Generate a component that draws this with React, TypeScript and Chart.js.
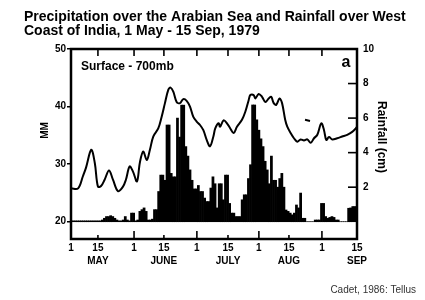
import React, { useEffect, useRef } from 'react';
import { Chart, registerables } from 'chart.js';

Chart.register(...registerables);

const FONT = '"Liberation Sans", Arial, Helvetica, sans-serif';

const titleLines = [
  'Precipitation over the Arabian Sea and Rainfall over West',
  'Coast of India, 1 May - 15 Sep, 1979',
];
const sourceNote = 'Cadet, 1986: Tellus';
const panelLabel = 'Surface - 700mb';
const panelLetter = 'a';
const leftAxisTitle = 'MM';
const rightAxisTitle = 'Rainfall (cm)';

// x axis: days counted from 1 May (tick positions as drawn on the original)
const dayTickPositions = [0, 12.9, 30.2, 44.5, 60.3, 75.2, 90.0, 104.4, 120.2, 137];
const dayTickLabels = ['1', '15', '1', '15', '1', '15', '1', '15', '1', '15'];
const monthLabels = ['', 'MAY', '', 'JUNE', '', 'JULY', '', 'AUG', '', 'SEP'];
const mmTicks = [20, 30, 40, 50];
const cmTicks = [2, 4, 6, 8, 10];

// precipitable water, surface - 700mb (mm)
const pwDays = [
  0, 3.4, 5.7, 7.2, 9.7, 11.4, 12.9, 14.4, 16.1, 18.2, 20.1, 22.5, 24.9, 26.3, 28.1, 29.7,
  31.6, 33.0, 34.6, 36.3, 37.8, 39.4, 41.8, 43.4, 45.0, 46.6, 47.7, 49.0, 50.6, 52.2, 53.8,
  55.4, 57.0, 58.6, 60.2, 61.8, 63.4, 65.0, 66.6, 68.2, 69.1, 70.7, 71.4, 73.1, 74.7, 76.3,
  77.9, 79.5, 81.9, 83.5, 85.1, 85.9, 87.5, 88.3, 89.9, 91.5, 93.1, 94.7, 95.9, 97.1, 98.3,
  99.9, 101.1, 102.6, 103.6, 105.2, 106.8, 108.4, 110.0, 111.6, 113.2, 114.8, 116.4, 118.0,
  119.9, 121.2, 122.3, 123.6, 125.1, 127.5, 129.9, 132.3, 134.7, 136.4, 137,
];
const pwValues = [
  25.8, 25.8, 27.9, 29.4, 32.5, 30.2, 26.1, 26.2, 27.3, 28.9, 27.3, 25.3, 26.1, 27.3, 29.6, 28.7,
  27.0, 30.3, 32.2, 30.7, 32.5, 34.8, 36.2, 38.2, 40.6, 42.9, 43.3, 42.6, 40.8, 40.6, 41.3,
  41.0, 40.0, 38.2, 37.4, 36.8, 35.9, 34.2, 33.1, 34.8, 36.2, 37.1, 36.5, 37.6, 37.1, 36.2,
  35.4, 36.5, 37.7, 39.1, 41.1, 42.0, 42.0, 41.4, 42.2, 41.7, 40.8, 41.4, 41.7, 40.6, 40.3,
  41.4, 40.6, 37.7, 36.5, 35.4, 34.5, 33.9, 34.3, 34.1, 34.3, 33.7, 34.5, 35.1,
  37.1, 35.9, 34.2, 34.7, 34.3, 34.5, 34.8, 35.1, 35.6, 36.2, 36.5,
];
const pwFragmentDays = [112.1, 114.5];
const pwFragmentValues = [37.7, 37.5];

// daily rainfall over the west coast (cm), day 0 = 1 May
const rainfallCm = [
  0.05, 0.05, 0.05, 0.05, 0.05, 0.05, 0.05, 0.05, 0.05, 0.05,
  0.05, 0.05, 0.05, 0.05, 0.05, 0.1, 0.2, 0.3, 0.3, 0.35,
  0.3, 0.2, 0.1, 0.05, 0.05, 0.1, 0.3, 0.1, 0.05, 0.5,
  0.5, 0.05, 0.1, 0.6, 0.7, 0.8, 0.6, 0.1, 0.1, 0.15,
  0.7, 0.7, 1.75, 2.7, 2.7, 2.4, 5.6, 5.6, 2.8, 2.6,
  2.6, 6.0, 4.9, 6.75, 6.75, 4.35, 3.8, 3.0, 2.4, 1.9,
  1.9, 2.1, 1.75, 1.75, 1.37, 1.17, 1.17, 1.95, 2.6, 2.2,
  0.8, 2.2, 2.2, 1.27, 2.7, 2.7, 1.06, 0.5, 0.5, 0.3,
  0.3, 0.3, 1.27, 1.56, 1.56, 2.5, 3.3, 6.76, 6.76, 5.9,
  5.3, 4.8, 4.35, 3.5, 3.0, 2.2, 3.8, 2.4, 2.4, 2.0,
  2.5, 2.8, 2.0, 0.68, 0.6, 0.5, 0.4, 0.5, 0.97, 0.8,
  1.66, 0.2, 0.2, 0, 0, 0, 0, 0.1, 0.1, 0.1,
  1.06, 1.06, 0.3, 0.2, 0.25, 0.3, 0.25, 0.1, 0.1, 0,
  0, 0, 0, 0.78, 0.8, 0.88, 0.88, 0.88,
];

const framePlugin = {
  id: 'frameAndNotes',
  afterDatasetsDraw(chart: any) {
    const { ctx, chartArea: a, scales } = chart;
    const seg = (x1: number, y1: number, x2: number, y2: number) => {
      ctx.beginPath();
      ctx.moveTo(x1, y1);
      ctx.lineTo(x2, y2);
      ctx.stroke();
    };
    ctx.save();
    ctx.strokeStyle = '#000';
    ctx.lineWidth = 1.6;
    dayTickPositions.forEach((v, i) => {
      if (i === 0 || i === dayTickPositions.length - 1) return;
      const px = scales.x.getPixelForValue(v);
      const len = dayTickLabels[i] === '1' ? 8 : 4;
      seg(px, a.bottom, px, a.bottom - len);
      seg(px, a.top, px, a.top + 7);
    });
    cmTicks.forEach((v) => {
      const py = scales.y2.getPixelForValue(v);
      seg(a.right, py, a.right - 9, py);
    });
    ctx.lineWidth = 2.5;
    ctx.strokeRect(a.left, a.top, a.right - a.left, a.bottom - a.top);

    ctx.fillStyle = '#000';
    ctx.textBaseline = 'middle';
    ctx.textAlign = 'left';
    ctx.font = `bold 12px ${FONT}`;
    ctx.fillText(panelLabel, a.left + 10, a.top + 18);
    ctx.textBaseline = 'alphabetic';
    ctx.font = `bold 16px ${FONT}`;
    ctx.fillText(panelLetter, a.right - 15.5, a.top + 17.7);

    ctx.textAlign = 'center';
    ctx.textBaseline = 'middle';
    ctx.font = `bold 10px ${FONT}`;
    ctx.save();
    ctx.translate(a.left - 26, a.top + 81.5);
    ctx.rotate(-Math.PI / 2);
    ctx.fillText(leftAxisTitle, 0, 0);
    ctx.restore();
    ctx.font = `bold 12px ${FONT}`;
    ctx.save();
    ctx.translate(a.right + 24, a.top + 88);
    ctx.rotate(Math.PI / 2);
    ctx.fillText(rightAxisTitle, 0, 0);
    ctx.restore();
    ctx.restore();
  },
};

export default function App() {
  const ref = useRef<HTMLCanvasElement>(null);
  useEffect(() => {
    if (!ref.current) return;
    const chart = new Chart(ref.current, {
      type: 'line',
      data: {
        datasets: [
          {
            type: 'line',
            label: 'Precipitable water (mm)',
            data: pwDays.map((d, i) => ({ x: d, y: pwValues[i] })),
            yAxisID: 'y',
            borderColor: '#000',
            borderWidth: 2,
            pointRadius: 0,
            tension: 0.35,
            fill: false,
            order: 1,
          },
          {
            type: 'line',
            label: 'fragment',
            data: pwFragmentDays.map((d, i) => ({ x: d, y: pwFragmentValues[i] })),
            yAxisID: 'y',
            borderColor: '#000',
            borderWidth: 2,
            pointRadius: 0,
            fill: false,
            order: 1,
          },
          {
            type: 'bar',
            label: 'Rainfall (cm)',
            data: rainfallCm.map((v, i) => ({ x: i, y: v })),
            yAxisID: 'y2',
            backgroundColor: '#000',
            borderWidth: 0,
            barPercentage: 1,
            categoryPercentage: 1,
            order: 2,
          } as any,
        ],
      },
      options: {
        responsive: false,
        devicePixelRatio: 1,
        animation: false,
        layout: { padding: { left: 24, right: 9, top: 0, bottom: 0 } },
        plugins: {
          legend: { display: false },
          tooltip: { enabled: false },
          title: {
            display: true,
            text: titleLines,
            align: 'start',
            color: '#000',
            font: { family: FONT, size: 14, weight: 'bold', lineHeight: 1 },
            padding: { top: 10, bottom: 11 },
          },
          subtitle: {
            display: true,
            text: sourceNote,
            position: 'bottom',
            align: 'end',
            color: '#333',
            font: { family: FONT, size: 10, weight: 'normal', lineHeight: 1.2 },
            padding: { top: 0, bottom: 4 },
          },
        },
        scales: {
          x: {
            type: 'linear',
            min: 0,
            max: 137,
            offset: false,
            grid: { display: false, drawTicks: false },
            border: { display: false },
            afterBuildTicks: (scale: any) => {
              scale.ticks = dayTickPositions.map((v) => ({ value: v }));
            },
            afterFit: (scale: any) => {
              scale.height = 45;
            },
            ticks: {
              autoSkip: false,
              maxRotation: 0,
              padding: 3,
              color: '#000',
              font: { family: FONT, size: 10, weight: 'bold', lineHeight: 1.25 },
              callback: (_v: any, i: number) =>
                monthLabels[i] ? [dayTickLabels[i], monthLabels[i]] : dayTickLabels[i],
            },
          },
          y: {
            type: 'linear',
            position: 'left',
            min: 17,
            max: 50,
            grid: {
              drawOnChartArea: false,
              drawTicks: true,
              tickLength: 4,
              color: '#000',
              lineWidth: 1.5,
            },
            border: { display: false },
            afterBuildTicks: (scale: any) => {
              scale.ticks = mmTicks.map((v) => ({ value: v }));
            },
            afterFit: (scale: any) => {
              scale.width = 47;
            },
            ticks: {
              padding: 1,
              color: '#000',
              font: { family: FONT, size: 10, weight: 'bold' },
            },
          },
          y2: {
            type: 'linear',
            position: 'right',
            min: -1,
            max: 10,
            grid: { display: false, drawTicks: false },
            border: { display: false },
            afterBuildTicks: (scale: any) => {
              scale.ticks = cmTicks.map((v) => ({ value: v }));
            },
            afterFit: (scale: any) => {
              scale.width = 59;
            },
            ticks: {
              padding: 6,
              color: '#000',
              font: { family: FONT, size: 10, weight: 'bold' },
            },
          },
        },
      } as any,
      plugins: [framePlugin],
    });
    return () => chart.destroy();
  }, []);

  return (
    <div style={{ position: 'fixed', left: 0, top: 0, width: 425, height: 300, background: '#fff' }}>
      <canvas ref={ref} width={425} height={300} style={{ display: 'block' }} />
    </div>
  );
}
